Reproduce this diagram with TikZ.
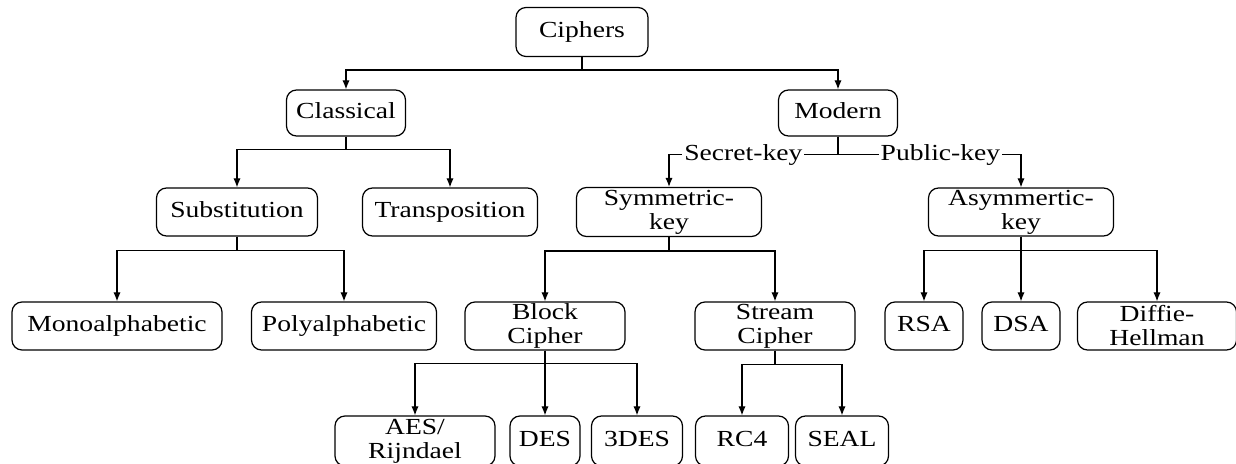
\documentclass[tikz,border=0pt]{standalone}
\usepackage{fontspec}
\setmainfont[FakeStretch=1.2]{Liberation Serif}
\usepackage{tikz}
\usetikzlibrary{arrows.meta}

\tikzset{
  box/.style={draw, rounded corners=5pt, inner sep=0pt, align=center, line width=0.6pt,
              font=\fontsize{11.5}{12}\selectfont},
  solo/.style={text height=8.2pt, text depth=2.6pt},
  link/.style={line width=0.6pt, -{Latex[length=4.5pt,width=3.6pt]}},
  lbl/.style={fill=white, inner sep=1pt, font=\fontsize{11.5}{12}\selectfont}
}

\begin{document}
\begin{tikzpicture}[x=0.5pt, y=-0.5pt]
\useasboundingbox (0,0) rectangle (1236,464);

% top levels
\node[box, solo, minimum width=66pt, minimum height=24.5pt] (cip) at (582,32) {Ciphers};
\node[box, solo, minimum width=59.5pt, minimum height=23pt] (cla) at (346,113) {Classical};
\node[box, solo, minimum width=59.5pt, minimum height=23pt] (mod) at (838,113) {Modern};

% classical side
\node[box, solo, minimum width=80.5pt, minimum height=24pt] (sub) at (237,212) {Substitution};
\node[box, solo, minimum width=87.5pt, minimum height=24pt] (tra) at (450,212) {Transposition};
\node[box, solo, minimum width=105pt, minimum height=24pt] (mon) at (117,326) {Monoalphabetic};
\node[box, solo, minimum width=92.5pt, minimum height=24pt] (pol) at (344,326) {Polyalphabetic};

% modern side
\node[box, minimum width=92.5pt, minimum height=24.5pt] (sym) at (669,212) {Symmetric-\\key};
\node[box, minimum width=92.5pt, minimum height=24pt] (asy) at (1021,212) {Asymmertic-\\key};
\node[box, minimum width=80pt, minimum height=24pt] (blo) at (545,326) {Block\\Cipher};
\node[box, minimum width=80pt, minimum height=24pt] (str) at (775,326) {Stream\\Cipher};
\node[box, solo, minimum width=39pt, minimum height=24pt] (rsa) at (924,326) {RSA};
\node[box, solo, minimum width=39pt, minimum height=24pt] (dsa) at (1021,326) {DSA};
\node[box, minimum width=79.5pt, minimum height=24pt] (dif) at (1157,326) {Diffie-\\Hellman};

% algorithms
\node[box, minimum width=80pt, minimum height=25pt] (aes) at (415,441) {AES/\\Rijndael};
\node[box, solo, minimum width=35pt, minimum height=25pt] (des) at (545,441) {DES};
\node[box, solo, minimum width=45.5pt, minimum height=25pt] (tde) at (637,441) {3DES};
\node[box, solo, minimum width=46.5pt, minimum height=25pt] (rcf) at (742,441) {RC4};
\node[box, solo, minimum width=46.5pt, minimum height=25pt] (sea) at (842,441) {SEAL};

% connectors
\draw[link] (cip.south) -- ++(0,13) -| (cla.north);
\draw[link] (cip.south) -- ++(0,13) -| (mod.north);
\draw[link] (cla.south) -- ++(0,13) -| (sub.north);
\draw[link] (cla.south) -- ++(0,13) -| (tra.north);
\draw[link] (sub.south) -- ++(0,14) -| (mon.north);
\draw[link] (sub.south) -- ++(0,14) -| (pol.north);
\draw[link] (mod.south) -- ++(0,18) -| node[lbl, pos=0.28] {Secret-key} (sym.north);
\draw[link] (mod.south) -- ++(0,18) -| node[lbl, pos=0.28] {Public-key} (asy.north);
\draw[link] (sym.south) -- ++(0,14) -| (blo.north);
\draw[link] (sym.south) -- ++(0,14) -| (str.north);
\draw[link] (asy.south) -- ++(0,14) -| (rsa.north);
\draw[link] (asy.south) -- (dsa.north);
\draw[link] (asy.south) -- ++(0,14) -| (dif.north);
\draw[link] (blo.south) -- ++(0,13) -| (aes.north);
\draw[link] (blo.south) -- (des.north);
\draw[link] (blo.south) -- ++(0,13) -| (tde.north);
\draw[link] (str.south) -- ++(0,14) -| (rcf.north);
\draw[link] (str.south) -- ++(0,14) -| (sea.north);
\end{tikzpicture}
\end{document}
